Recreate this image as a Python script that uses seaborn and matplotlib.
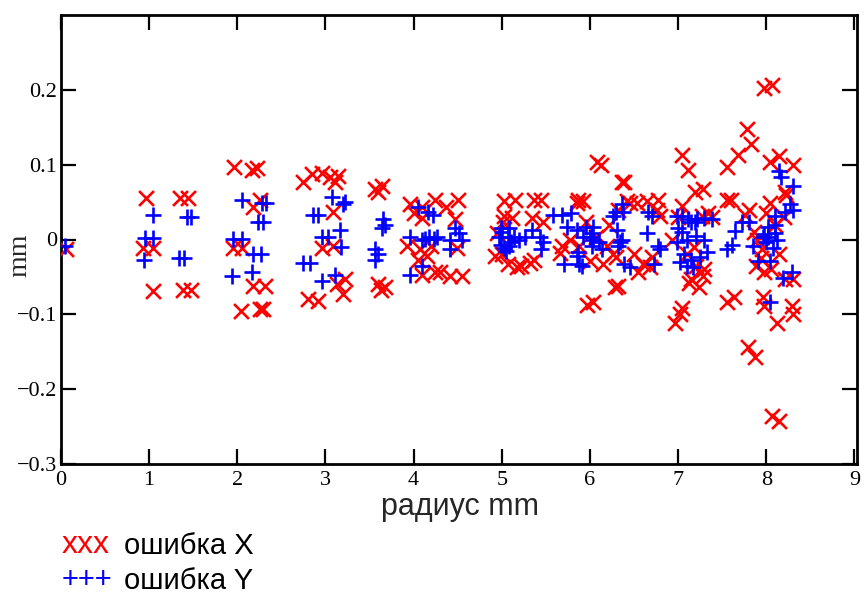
import matplotlib
matplotlib.use('Agg')
import matplotlib.pyplot as plt
import numpy as np
import pandas as pd
import seaborn as sns

# error in X (red crosses)
err_x_r = [0.06,
           0.96, 0.93, 1.04, 1.04, 1.35, 1.44, 1.38, 1.48,
           1.96, 2.17, 2.22, 2.18, 2.26, 1.95, 2.05, 2.18, 2.31, 2.04, 2.26, 2.29,
           2.74, 2.85, 2.96, 3.05, 3.14, 3.11, 3.08, 2.96, 3.08, 3.22, 3.13, 2.80, 2.91, 3.20,
           3.56, 3.64, 3.60, 3.60, 3.67, 3.63,
           3.96, 4.09, 4.24, 4.37, 4.50, 4.47, 4.09, 3.93, 4.07, 4.20, 4.49, 4.05, 4.15, 4.10,
           4.24, 4.30, 4.41, 4.55, 4.00,
           5.03, 5.15, 5.37, 5.45, 5.86, 5.12, 5.34, 5.01, 4.95, 4.92, 5.07, 5.17, 5.32, 5.37,
           5.68, 5.77, 5.88, 5.47, 5.66, 5.85, 5.03, 5.00, 5.22,
           6.08, 6.13, 6.36, 6.39, 5.92, 6.42, 6.45, 6.53, 6.65, 6.77, 6.79, 6.76, 5.96, 6.22,
           6.32, 6.07, 6.19, 6.26, 6.00, 6.15, 6.30, 6.60, 6.70, 6.54, 6.28, 6.32, 6.03, 5.97,
           6.50, 6.68,
           7.05, 7.11, 7.19, 7.28, 7.27, 7.34, 6.93, 7.15, 7.24, 7.28, 6.96, 7.02, 7.04, 7.00,
           7.10, 7.20, 7.30, 7.05, 7.38, 7.12, 7.18,
           7.55, 7.68, 7.78, 7.83, 7.56, 7.60, 7.76, 7.55, 7.64, 7.79, 7.87, 7.98, 8.07, 8.04,
           8.15, 8.30, 8.21, 8.23, 8.04, 7.98, 8.21, 8.30, 7.96, 7.98, 8.12, 8.29, 8.30, 8.07,
           8.15, 7.88, 7.95, 8.10, 8.15, 7.90, 8.00, 8.20, 8.05, 7.86, 7.94, 7.80]
err_x_v = [-0.013,
           0.056, -0.011, -0.011, -0.069, 0.055, 0.055, -0.067, -0.067,
           0.097, 0.093, 0.095, 0.044, 0.053, -0.011, -0.011, -0.062, -0.062, -0.096, -0.093, -0.093,
           0.077, 0.087, 0.089, 0.084, 0.085, 0.077, 0.037, -0.011, -0.009, -0.053, -0.060, -0.080, -0.082, -0.073,
           0.067, 0.071, 0.063, -0.060, -0.063, -0.068,
           0.047, 0.044, 0.053, 0.043, 0.053, 0.027, 0.029, -0.009, -0.013, -0.009, -0.011, -0.027, -0.022, -0.047,
           -0.044, -0.043, -0.049, -0.049, 0.035,
           0.051, 0.053, 0.053, 0.053, 0.053, 0.029, 0.029, 0.024, 0.009, -0.022, -0.033, -0.037, -0.031, -0.027,
           -0.009, 0.000, -0.009, 0.024, -0.018, 0.049, 0.031, -0.020, -0.035,
           0.104, 0.100, 0.077, 0.077, 0.051, 0.051, 0.049, 0.049, 0.051, 0.053, 0.031, 0.040, 0.024, 0.020,
           0.040, 0.003, -0.009, -0.020, -0.029, -0.033, -0.024, -0.033, -0.024, -0.043, -0.064, -0.062, -0.084, -0.087,
           -0.020, -0.037,
           0.113, 0.093, 0.064, 0.067, 0.031, 0.036, 0.000, -0.053, -0.063, -0.049, -0.111, -0.100, -0.091, 0.030,
           -0.020, -0.035, -0.040, 0.045, 0.030, -0.058, -0.010,
           0.097, 0.113, 0.147, 0.127, 0.053, 0.053, 0.033, -0.084, -0.077, -0.144, -0.157, 0.203, 0.207, 0.103,
           0.111, 0.100, 0.064, 0.060, 0.049, -0.044, -0.053, -0.053, -0.077, -0.089, -0.111, -0.089, -0.100, -0.236,
           -0.243, -0.036, -0.013, 0.020, -0.020, 0.000, 0.035, 0.030, -0.040, 0.010, -0.025, 0.040]

# error in Y (blue pluses)
err_y_r = [0.05,
           1.04, 0.95, 1.04, 0.94, 1.43, 1.48, 1.34, 1.39,
           2.05, 2.28, 2.32, 2.23, 2.29, 1.95, 2.05, 2.18, 2.27, 1.94, 2.17,
           3.07, 3.22, 2.86, 2.92, 3.16, 2.96, 3.03, 3.18, 2.74, 2.82, 2.96, 3.11, 3.20,
           3.65, 3.67, 3.64, 3.56, 3.56, 3.60,
           4.05, 4.16, 4.22, 3.96, 4.09, 4.18, 4.27, 4.41, 4.52, 4.55, 4.41, 4.09, 3.96, 4.13,
           4.23, 4.47,
           5.58, 5.68, 5.79, 4.99, 5.08, 4.97, 5.07, 5.14, 4.99, 5.08, 5.05, 5.00, 5.10, 5.03,
           5.34, 5.43, 5.47, 5.45, 5.26, 5.74, 5.85, 5.85, 5.71, 5.88, 5.20,
           5.86, 6.02, 6.03, 6.10, 6.14, 5.96, 6.03, 5.92, 6.00, 6.02, 5.91, 6.36, 6.30, 6.26,
           6.37, 6.66, 6.70, 6.36, 6.32, 6.65, 6.77, 6.79, 6.39, 6.45, 6.73, 6.31, 6.34,
           6.99, 7.04, 6.99, 7.07, 7.15, 7.10, 7.17, 7.25, 7.33, 7.15, 7.19, 7.00, 7.05, 7.10,
           7.20, 7.30, 7.02, 7.11, 7.21, 7.30, 7.38,
           7.55, 7.61, 7.65, 7.73, 7.80, 7.85, 7.91, 7.97, 8.00, 8.15, 8.17, 8.30, 8.27, 8.30,
           8.21, 8.10, 8.02, 8.10, 7.96, 8.02, 8.10, 8.12, 8.08, 8.04, 8.19, 8.29, 8.04]
err_y_v = [-0.009,
           0.033, 0.002, 0.002, -0.028, 0.030, 0.030, -0.025, -0.025,
           0.053, 0.049, 0.049, 0.023, 0.023, 0.001, 0.001, -0.019, -0.019, -0.049, -0.044,
           0.057, 0.050, 0.033, 0.033, 0.013, 0.003, 0.003, -0.010, -0.031, -0.031, -0.055, -0.047, 0.047,
           0.027, 0.020, 0.016, -0.013, -0.027, -0.020,
           0.043, 0.037, 0.033, 0.003, 0.000, 0.003, 0.003, 0.000, 0.009, 0.000, -0.013, -0.036, -0.047, 0.001,
           0.001, 0.015,
           0.033, 0.033, 0.036, 0.016, 0.016, 0.004, 0.004, 0.003, -0.007, -0.009, -0.016, 0.010, -0.003, -0.012,
           0.013, 0.003, -0.004, -0.013, 0.004, 0.017, 0.013, -0.022, -0.033, -0.033, 0.000,
           -0.017, 0.009, 0.000, -0.004, -0.013, 0.017, 0.017, 0.004, 0.004, -0.009, -0.036, 0.047, 0.037, 0.031,
           0.037, 0.037, 0.031, 0.000, -0.009, 0.009, -0.009, -0.013, -0.033, -0.037, -0.033, 0.013, -0.004,
           0.031, 0.031, -0.003, -0.020, -0.027, -0.036, -0.037, -0.023, -0.017, 0.023, 0.024, 0.015, 0.010, 0.000,
           0.005, 0.000, -0.030, 0.027, 0.027, 0.029, 0.027,
           -0.013, -0.007, 0.011, 0.024, 0.023, -0.009, -0.029, 0.007, -0.003, 0.091, 0.084, 0.071, 0.047, 0.040,
           0.037, 0.031, 0.017, 0.020, 0.004, 0.003, 0.009, 0.000, -0.011, -0.029, -0.051, -0.043, -0.083]

x_ticks = [0, 1, 2, 3, 4, 5, 6, 7, 8, 9]
y_ticks = [-0.3, -0.2, -0.1, 0, 0.1, 0.2]
y_tick_labels = ['\u22120.3', '\u22120.2', '\u22120.1', '0', '0.1', '0.2']

df_x = pd.DataFrame({'r': err_x_r, 'err': err_x_v})
df_y = pd.DataFrame({'r': err_y_r, 'err': err_y_v})

sns.set_style('ticks')
plt.rcParams['font.family'] = ['Liberation Serif', 'DejaVu Serif']

fig = plt.figure(figsize=(8.64, 5.97), dpi=100)
ax = fig.add_axes([61 / 864, 1 - 464 / 597, (857 - 61) / 864, (464 - 15) / 597])

sns.scatterplot(data=df_x, x='r', y='err', ax=ax, marker='x', color='#ff0000',
                s=115, linewidth=1.9, zorder=3)
sns.scatterplot(data=df_y, x='r', y='err', ax=ax, marker='+', color='#0000ff',
                s=135, linewidth=1.9, zorder=4)

ax.set_xlim(0, 9.03)
ax.set_ylim(-0.3, 0.3)
ax.set_xticks(x_ticks)
ax.set_xticklabels([str(t) for t in x_ticks])
ax.set_yticks(y_ticks)
ax.set_yticklabels(y_tick_labels)
ax.tick_params(direction='in', length=11, width=1.6, top=True, right=True,
               labelsize=16, colors='black')
ax.tick_params(axis='y', pad=3)
ax.tick_params(axis='x', pad=5)
for s in ax.spines.values():
    s.set_linewidth(2.0)
    s.set_color('black')

ax.set_xlabel('')
ax.set_ylabel('')
fig.text(20 / 864, 1 - 255 / 597, 'mm', rotation=90, ha='center', va='center',
         fontsize=20, family=['Liberation Serif'])
fig.text(460 / 864, 1 - 507 / 597, 'радиус mm', ha='center', va='center',
         fontsize=22, family=['Liberation Sans'])

fig.text(62 / 864, 1 - 545 / 597, 'xxx', color='#ff0000', ha='left', va='center',
         fontsize=23, family=['Liberation Sans'])
fig.text(124 / 864, 1 - 546 / 597, 'ошибка X', color='black', ha='left', va='center',
         fontsize=21, family=['Liberation Sans'])
fig.text(62 / 864, 1 - 580 / 597, '+++', color='#0000ff', ha='left', va='center',
         fontsize=21, family=['Liberation Sans'])
fig.text(124 / 864, 1 - 581 / 597, 'ошибка Y', color='black', ha='left', va='center',
         fontsize=21, family=['Liberation Sans'])

fig.savefig('out.png', dpi=100)
